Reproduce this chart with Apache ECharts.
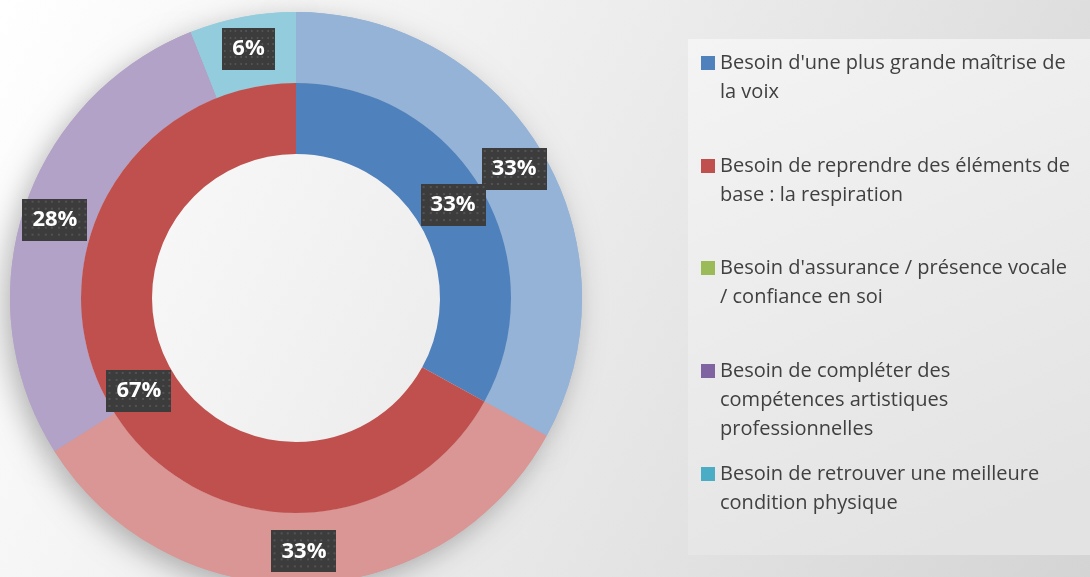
<!DOCTYPE html>
<html>
<head>
<meta charset="utf-8">
<script src="https://cdn.jsdelivr.net/npm/echarts@6/dist/echarts.min.js"></script>
<style>
html,body{margin:0;padding:0;width:1090px;height:577px;overflow:hidden;background:#fff;}
#chart{width:1090px;height:577px;}
</style>
</head>
<body>
<div id="chart"></div>
<script>
const categories = [
  "Besoin d'une plus grande maîtrise de la voix",
  "Besoin de reprendre des éléments de base : la respiration",
  "Besoin d'assurance / présence vocale / confiance en soi",
  "Besoin de compléter des compétences artistiques professionnelles",
  "Besoin de retrouver une meilleure condition physique"
];
const legendLabels = [
  "Besoin d'une plus grande maîtrise de\nla voix",
  "Besoin de reprendre des éléments de\nbase : la respiration",
  "Besoin d'assurance / présence vocale\n/ confiance en soi",
  "Besoin de compléter des\ncompétences artistiques\nprofessionnelles",
  "Besoin de retrouver une meilleure\ncondition physique"
];
const innerValues = [33, 67, 0, 0, 0];
const outerValues = [33, 33, 0, 28, 6];
const innerColors = ['#4F81BD', '#C0504D', '#9BBB59', '#8064A2', '#4BACC6'];
const outerColors = ['#95B3D7', '#D99694', '#C3D69B', '#B3A2C7', '#93CDDD'];
const legendIconCenters = [63, 166, 268, 371, 474];

// dotted texture for label boxes
const tex = document.createElement('canvas');
tex.width = 64; tex.height = 42;
const tctx = tex.getContext('2d');
tctx.fillStyle = '#3c3c3c';
tctx.fillRect(0, 0, 64, 42);
tctx.fillStyle = '#535353';
for (let y = 2; y < 42; y += 6.6) {
  for (let x = 2; x < 64; x += 6.6) {
    tctx.fillRect(Math.round(x), Math.round(y), 2, 2);
  }
}

const labelStyle = {
  show: true,
  position: 'inside',
  formatter: p => p.value + '%',
  color: '#ffffff',
  fontFamily: 'Open Sans',
  fontWeight: 'bold',
  fontSize: 22,
  lineHeight: 24,
  padding: [9, 10, 9, 10],
  backgroundColor: { image: tex },
  shadowBlur: 5,
  shadowOffsetX: 3,
  shadowOffsetY: 3,
  shadowColor: 'rgba(0,0,0,0.45)'
};

function buildData(values, colors, withLabel) {
  return categories.map((name, i) => ({
    name: name,
    value: values[i],
    itemStyle: { color: colors[i] },
    label: { show: withLabel && values[i] > 0 }
  }));
}

const LH = 29;
const legends = categories.map((name, i) => {
  const lines = legendLabels[i].split('\n');
  const n = lines.length;
  // pad with empty lines above so the first line sits at the icon's centre
  const padded = '\n'.repeat(n - 1) + legendLabels[i];
  const total = 2 * n - 1;
  return {
    data: [name],
    left: 701,
    top: legendIconCenters[i] - total * LH / 2,
    orient: 'vertical',
    padding: 0,
    icon: 'rect',
    itemWidth: 14,
    itemHeight: 14,
    selectedMode: false,
    formatter: () => padded,
    textStyle: {
      fontFamily: 'Open Sans',
      fontSize: 20,
      color: '#404040',
      lineHeight: LH
    }
  };
});

const chart = echarts.init(document.getElementById('chart'), null, { renderer: 'canvas' });
chart.setOption({
  animation: false,
  backgroundColor: {
    type: 'linear', x: 0, y: 0, x2: 1, y2: 1,
    colorStops: [
      { offset: 0, color: '#ffffff' },
      { offset: 0.5, color: '#ebebeb' },
      { offset: 1, color: '#d4d4d4' }
    ]
  },
  graphic: [{
    type: 'rect',
    z: -10,
    shape: { x: 688, y: 39, width: 402, height: 516 },
    style: {
      fill: {
        type: 'linear', x: 0, y: 0, x2: 0.6, y2: 1,
        colorStops: [
          { offset: 0, color: '#f4f4f4' },
          { offset: 1, color: '#e3e3e3' }
        ]
      }
    }
  }],
  legend: legends,
  series: [
    {
      type: 'pie',
      name: 'inner',
      center: [296, 298],
      radius: [144, 215],
      startAngle: 90,
      z: 4,
      silent: true,
      avoidLabelOverlap: false,
      labelLayout: { hideOverlap: false },
      label: labelStyle,
      labelLine: { show: false },
      data: buildData(innerValues, innerColors, true)
    },
    {
      type: 'pie',
      name: 'outer',
      center: [296, 298],
      radius: [215, 286],
      startAngle: 90,
      z: 3,
      silent: true,
      avoidLabelOverlap: false,
      labelLayout: { hideOverlap: false },
      label: labelStyle,
      labelLine: { show: false },
      data: buildData(outerValues, outerColors, true)
    },
    {
      type: 'pie',
      name: 'outer-shadow',
      center: [296, 298],
      radius: [215, 286],
      startAngle: 90,
      z: 1,
      silent: true,
      itemStyle: {
        shadowBlur: 28,
        shadowColor: 'rgba(0,0,0,0.28)',
        shadowOffsetX: -6,
        shadowOffsetY: 8
      },
      label: { show: false },
      labelLine: { show: false },
      data: buildData(outerValues, outerColors, false)
    }
  ]
});
</script>
</body>
</html>
